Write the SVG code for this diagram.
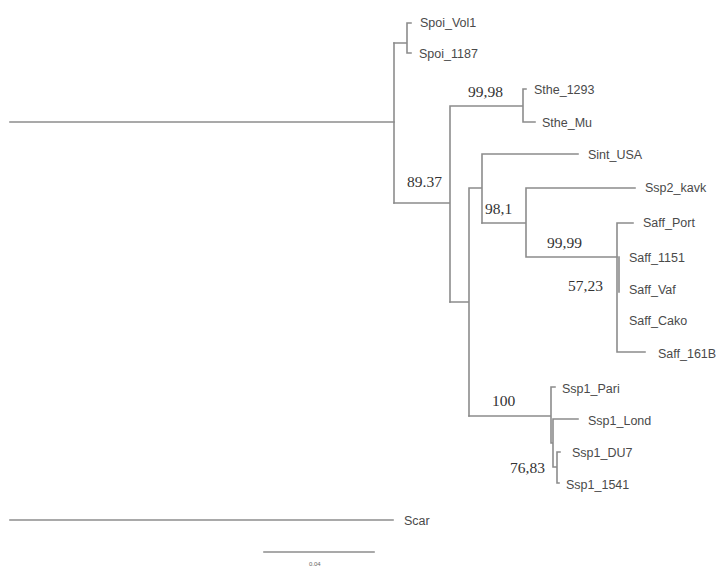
<svg xmlns="http://www.w3.org/2000/svg" width="722" height="567" viewBox="0 0 722 567">
<style>
.e{stroke:#8c8c8c;stroke-width:1.6;fill:none;stroke-linecap:square}
.t{font-family:"Liberation Sans",Arial,sans-serif;font-size:12.5px;fill:#4a4a4a}
.b{font-family:"Liberation Serif","Times New Roman",serif;font-size:15.5px;fill:#333}
.s{font-family:"Liberation Sans",Arial,sans-serif;font-size:6px;fill:#666}
</style>
<rect width="722" height="567" fill="#fff"/>
<g id="connectors" class="e">
<path d="M10 122H394"/>
<path d="M394 43V203"/>
<path d="M394 43H407M407 23V53M407 23H411M407 53H411"/>
<path d="M394 203H450M450 106V302M450 106H523M523 89V122M523 89H526M523 122H535"/>
<path d="M450 302H469M469 188V416M469 188H482M482 154V223M482 154H578"/>
<path d="M482 223H526M526 188V257M526 188H635M526 257H617"/>
<path d="M617 223V352M617 223H633M617 352H645M619 257V292"/>
<path d="M469 416H551M551 387V443M551 387H555M551 443H553M553 419V467M553 419H578M553 467H557M557 452V483M557 452H560M557 483H559"/>
<path d="M10 520H393"/>
<path d="M264 552H374"/>
</g>
<g id="leaves">
<text id="Spoi_Vol1" class="t" x="420" y="27">Spoi_Vol1</text>
<text id="Spoi_1187" class="t" x="419" y="58">Spoi_1187</text>
<text id="Sthe_1293" class="t" x="534" y="94">Sthe_1293</text>
<text id="Sthe_Mu" class="t" x="542" y="127">Sthe_Mu</text>
<text id="Sint_USA" class="t" x="588" y="159">Sint_USA</text>
<text id="Ssp2_kavk" class="t" x="645" y="192">Ssp2_kavk</text>
<text id="Saff_Port" class="t" x="643" y="227">Saff_Port</text>
<text id="Saff_1151" class="t" x="629" y="262">Saff_1151</text>
<text id="Saff_Vaf" class="t" x="629" y="294">Saff_Vaf</text>
<text id="Saff_Cako" class="t" x="629" y="325">Saff_Cako</text>
<text id="Saff_161B" class="t" x="658" y="358">Saff_161B</text>
<text id="Ssp1_Pari" class="t" x="562" y="393">Ssp1_Pari</text>
<text id="Ssp1_Lond" class="t" x="588" y="425">Ssp1_Lond</text>
<text id="Ssp1_DU7" class="t" x="572" y="457">Ssp1_DU7</text>
<text id="Ssp1_1541" class="t" x="566" y="489">Ssp1_1541</text>
<text id="Scar" class="t" x="404" y="525">Scar</text>
</g>
<g id="support">
<text class="b" x="468" y="97">99,98</text>
<text class="b" x="407" y="187">89.37</text>
<text class="b" x="485" y="214">98,1</text>
<text class="b" x="547" y="248">99,99</text>
<text class="b" x="568" y="291">57,23</text>
<text class="b" x="492" y="406">100</text>
<text class="b" x="510" y="473">76,83</text>
</g>
<g id="scale">
<text class="s" x="309" y="566">0.04</text>
</g>
</svg>
